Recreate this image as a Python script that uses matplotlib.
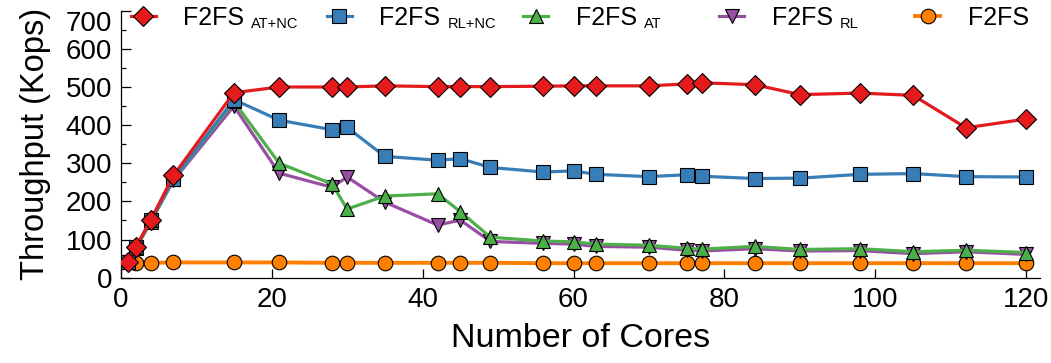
import matplotlib
matplotlib.use("Agg")
import matplotlib.pyplot as plt

plt.rcParams['font.family'] = ['Liberation Sans', 'DejaVu Sans']

cores = [1, 2, 4, 7, 15, 21, 28, 30, 35, 42, 45, 49, 56, 60, 63, 70, 75, 77, 84, 90, 98, 105, 112, 120]

f2fs_at_nc = [42, 80, 152, 268, 485, 500, 500, 500, 503, 501, 501, 501, 502, 503, 503, 503, 508, 511, 506, 480, 484, 478, 393, 416]
f2fs_rl_nc = [42, 80, 150, 258, 467, 413, 388, 394, 318, 308, 312, 289, 277, 280, 271, 265, 270, 266, 260, 261, 271, 273, 265, 264]
f2fs_at = [40, 78, 145, 258, 462, 300, 246, 180, 214, 220, 173, 106, 96, 94, 88, 85, 77, 75, 82, 74, 76, 68, 72, 66]
f2fs_rl = [40, 75, 148, 255, 450, 274, 237, 264, 198, 138, 151, 95, 90, 88, 82, 80, 72, 70, 76, 70, 71, 63, 68, 61]
f2fs = [40, 39, 39, 40, 40, 40, 39, 39, 39, 39, 39, 39, 38, 38, 38, 38, 38, 38, 38, 38, 38, 38, 38, 38]

legend_main = ["F2FS", "F2FS", "F2FS", "F2FS", "F2FS"]
legend_sub = ["AT+NC", "RL+NC", "AT", "RL", ""]

x_ticks = [0, 20, 40, 60, 80, 100, 120]
y_ticks = [0, 100, 200, 300, 400, 500, 600, 700]

fig = plt.figure(figsize=(10.51, 3.63), dpi=100)
ax = fig.add_axes([0.1148, 0.235, 0.8747, 0.7355])

edge = dict(markeredgecolor='black', markeredgewidth=0.8)
l5, = ax.plot(cores, f2fs, color='#FF7F00', lw=2.8, marker='o', ms=10.5, zorder=2, **edge)
l4, = ax.plot(cores, f2fs_rl, color='#984EA3', lw=2.3, marker='v', ms=10.5, zorder=3, **edge)
l3, = ax.plot(cores, f2fs_at, color='#4DAF4A', lw=2.3, marker='^', ms=10.5, zorder=4, **edge)
l2, = ax.plot(cores, f2fs_rl_nc, color='#377EB8', lw=2.3, marker='s', ms=10.3, zorder=5, **edge)
l1, = ax.plot(cores, f2fs_at_nc, color='#E41A1C', lw=2.3, marker='D', ms=10.3, zorder=6, **edge)

ax.set_xlim(0, 121.8)
ax.set_ylim(0, 700)
ax.set_xticks(x_ticks)
ax.set_yticks(y_ticks)
ax.set_yticks([50, 150, 250, 350, 450, 550, 650], minor=True)
ax.tick_params(axis='both', which='major', direction='in', labelsize=20, width=0.9)
ax.tick_params(axis='y', which='major', length=7, pad=6)
ax.tick_params(axis='x', which='major', length=6.5, pad=7)
ax.tick_params(axis='y', which='minor', direction='in', length=3.6, width=0.9)
for s in ['top', 'right']:
    ax.spines[s].set_visible(False)
for s in ['left', 'bottom']:
    ax.spines[s].set_linewidth(0.9)

ax.set_xlabel("Number of Cores", fontsize=24.5, labelpad=7)
ax.set_ylabel("Throughput (Kops)", fontsize=23.5, labelpad=11)

ylabels = ax.get_yticklabels()
ylabels[-1].set_va('top')

leg = ax.legend([l1, l2, l3, l4, l5], legend_main, ncol=5, frameon=False,
                loc='center left', bbox_to_anchor=(0.011, 0.972), borderpad=0,
                borderaxespad=0, fontsize=18, handlelength=1.0, handletextpad=1.1,
                columnspacing=3.3)
leg.set_zorder(8)
for txt, sub in zip(leg.get_texts(), legend_sub):
    if sub:
        ax.annotate(sub, xy=(1, 0), xycoords=txt, xytext=(5, 1.5),
                    textcoords='offset points', fontsize=10.5, va='baseline',
                    ha='left', zorder=12, annotation_clip=False)

fig.savefig("out.png", dpi=100)
